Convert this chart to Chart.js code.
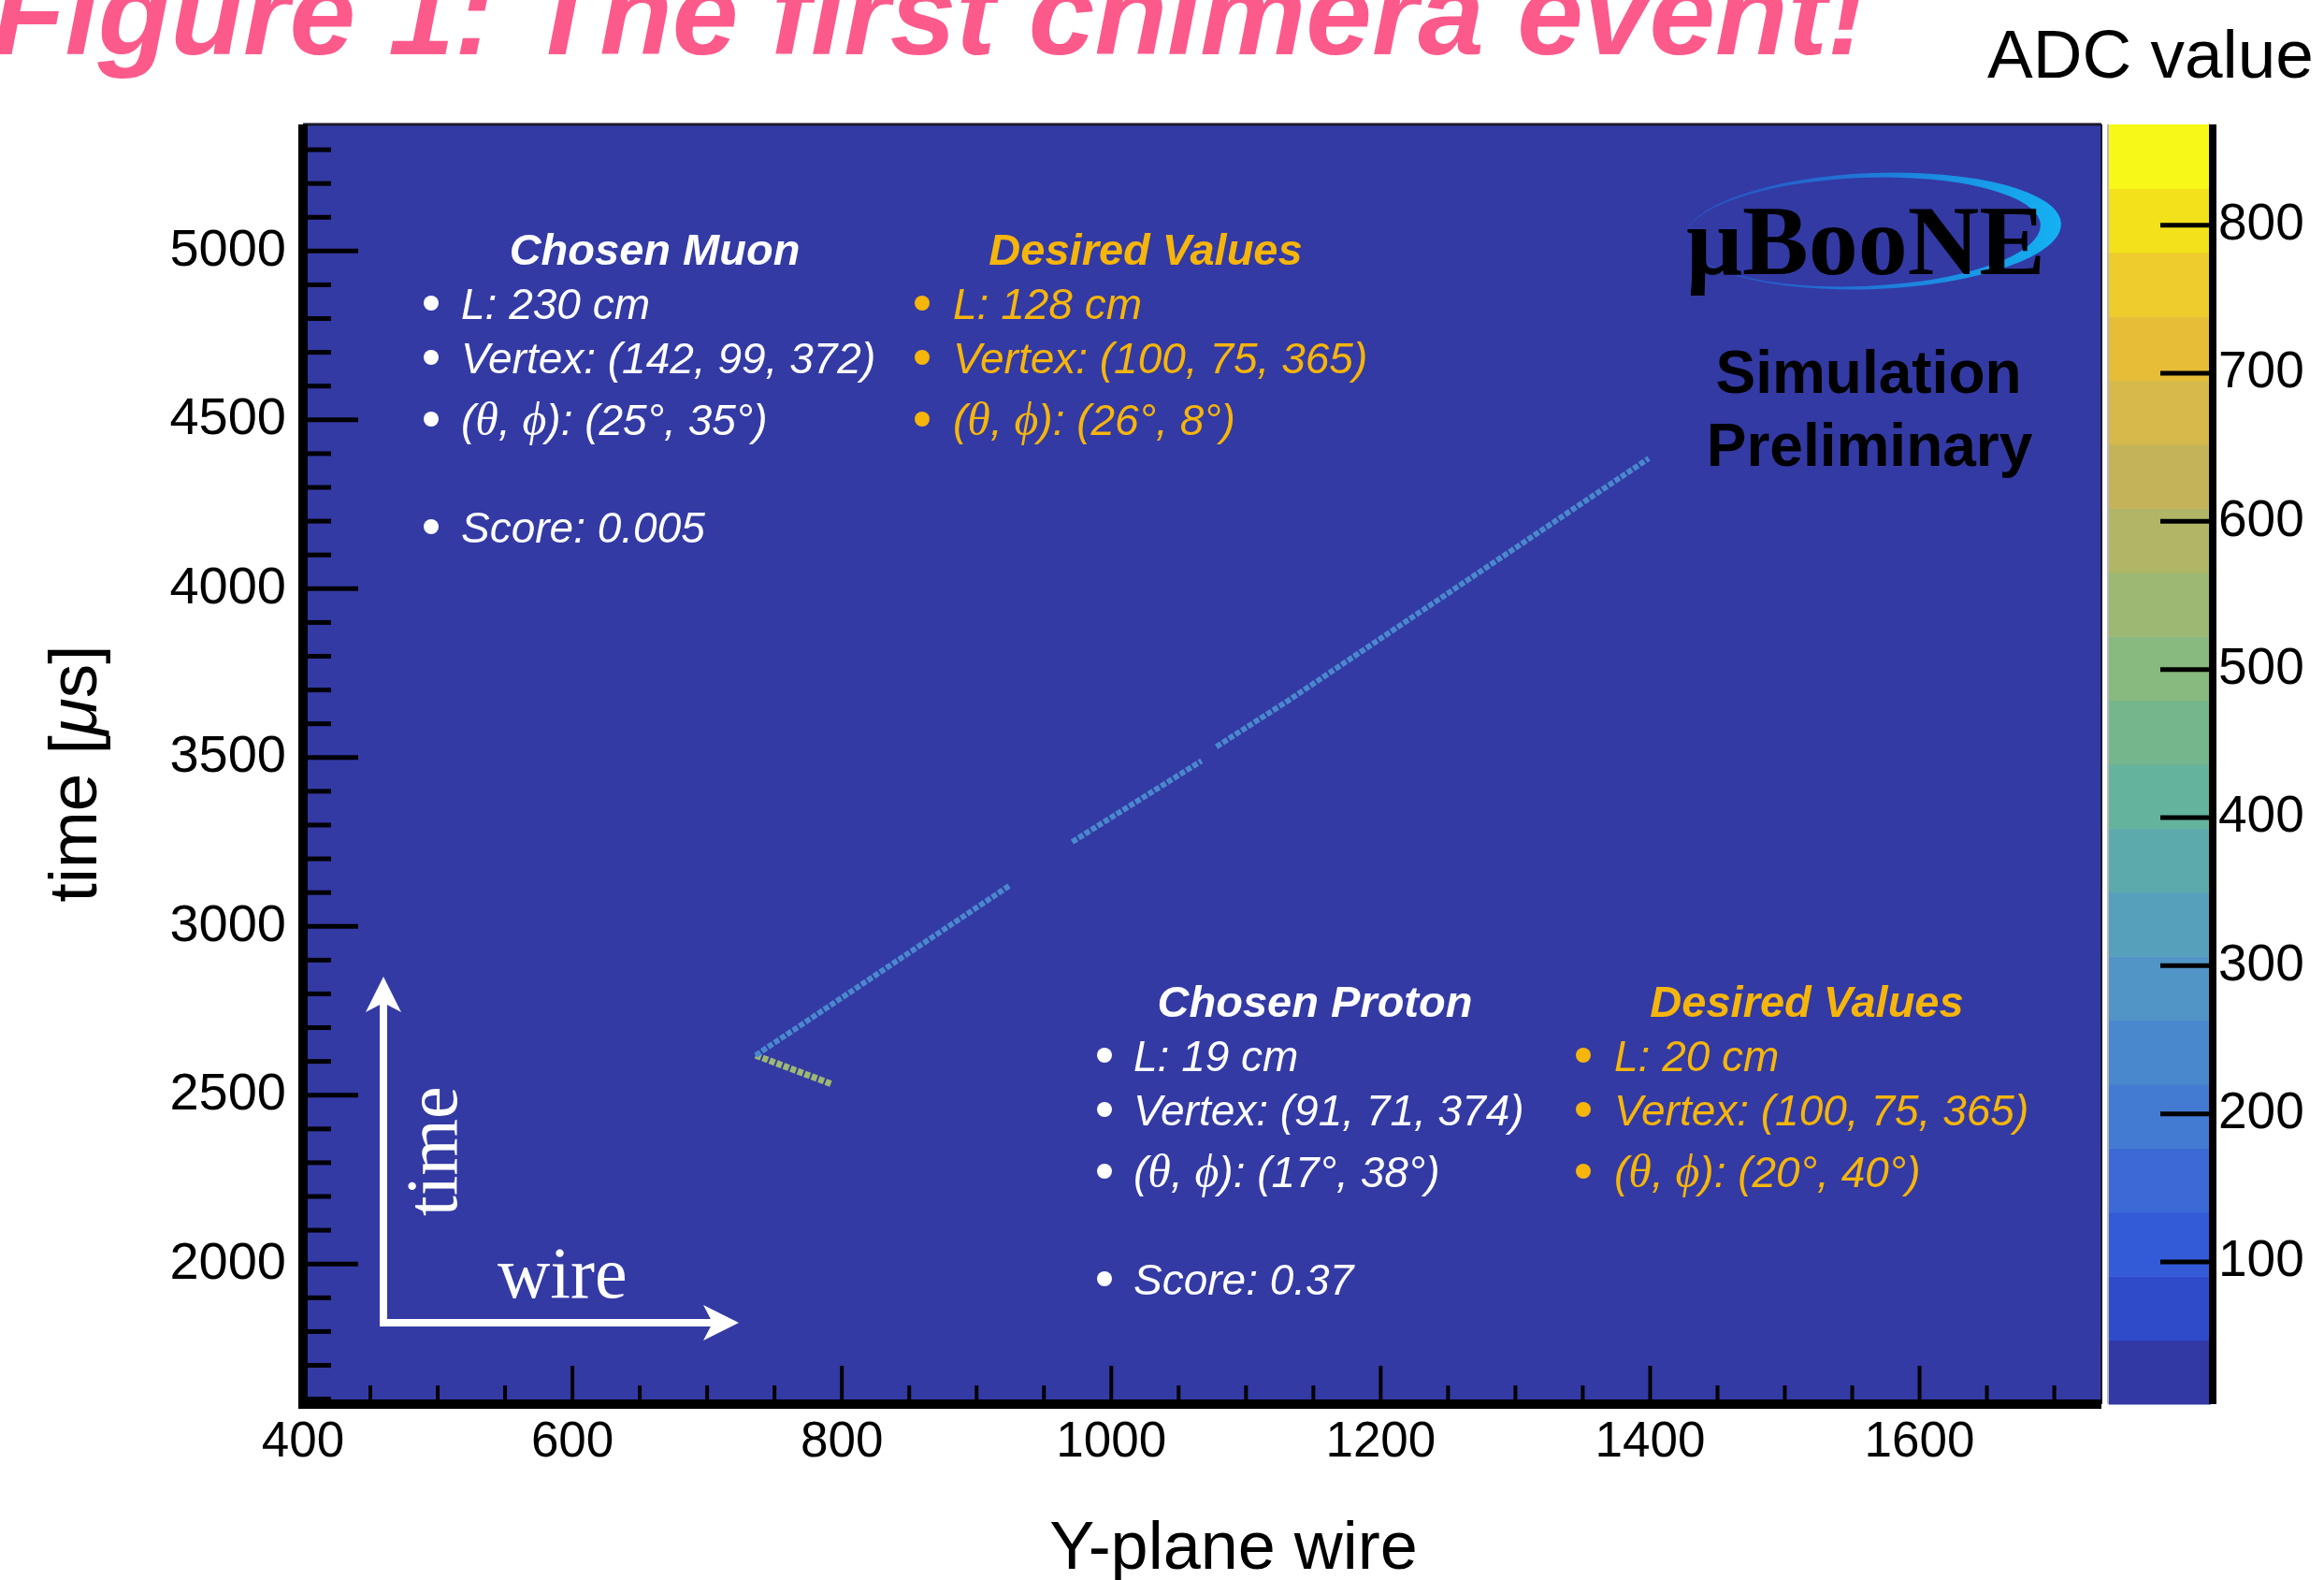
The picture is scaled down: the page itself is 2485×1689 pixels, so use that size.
<!DOCTYPE html>
<html>
<head>
<meta charset="utf-8">
<script src="https://cdn.jsdelivr.net/npm/chart.js@4.4.0/dist/chart.umd.min.js"></script>
<style>
  html, body { margin:0; padding:0; background:#fff; }
  #wrap { width:2485px; height:1689px; }
</style>
</head>
<body>
<div id="wrap"><canvas id="evd" width="2485" height="1689"></canvas></div>
<script>
const xTicks = [400, 600, 800, 1000, 1200, 1400, 1600];
const yTicks = [2000, 2500, 3000, 3500, 4000, 4500, 5000];
const zTicks = [100, 200, 300, 400, 500, 600, 700, 800];
const xRange = [400, 1735];
const yRange = [1585, 5375];
const zRange = [4, 868];

// muon track (wire, time), split where hits are missing
const muonWire = [[736, 925], [971, 1067], [1078, 1130, 1399]];
const muonTime = [[2618, 3122], [3250, 3490], [3532, 3665, 4386]];
const muonAdc  = 230;
// proton track
const protonWire = [736, 793];
const protonTime = [2618, 2532];
const protonAdc  = 560;

// colour bands of the ADC palette, bottom to top
const adcColors = ['#3339a4','#2f4bc9','#335bd8','#3b6ad7','#437bd3','#4a88ce','#5095c6','#56a0bb','#5caaac','#64b39c',
                   '#75b68d','#88b97e','#9db872','#b1b666','#c5b35a','#d6b84b','#e6bd37','#eecc2b','#f2e11b','#f7f815'];

// text boxes on the display
const muonInfo   = ['L: 230 cm', 'Vertex: (142, 99, 372)', '(θ, ϕ): (25°, 35°)', 'Score: 0.005'];
const muonWant   = ['L: 128 cm', 'Vertex: (100, 75, 365)', '(θ, ϕ): (26°, 8°)'];
const protonInfo = ['L: 19 cm', 'Vertex: (91, 71, 374)', '(θ, ϕ): (17°, 38°)', 'Score: 0.37'];
const protonWant = ['L: 20 cm', 'Vertex: (100, 75, 365)', '(θ, ϕ): (20°, 40°)'];

const W = 2485, H = 1689;
const AREA = { left:324, right:2247, top:133, bottom:1501 };
const BG = '#333aa4';
const GOLD = '#f6b50a';
const SANS = '"Liberation Sans", Arial, Helvetica, sans-serif';
const SERIF = '"Liberation Serif", "Times New Roman", serif';

function adcColor(v) {
  const n = adcColors.length;
  const i = Math.floor((v - zRange[0]) / (zRange[1] - zRange[0]) * n);
  return adcColors[Math.max(0, Math.min(n - 1, i))];
}

function seg(ws, ts) { return ws.map((w, i) => ({ x:w, y:ts[i] })); }

const datasets = [];
muonWire.forEach((ws, k) => datasets.push({
  label:'muon', data:seg(ws, muonTime[k]), borderColor:adcColor(muonAdc),
  borderWidth:6, borderDash:[6,2], pointRadius:0, tension:0
}));
datasets.push({
  label:'proton', data:seg(protonWire, protonTime), borderColor:adcColor(protonAdc),
  borderWidth:7, borderDash:[6,2], pointRadius:0, tension:0
});

// ─ helpers ─
function line(ctx, x1, y1, x2, y2) { ctx.beginPath(); ctx.moveTo(x1, y1); ctx.lineTo(x2, y2); ctx.stroke(); }

// draws a line, greek letters in serif italic
function richText(ctx, str, x, y, size) {
  let cx = x, buf = '', greek = null;
  const flush = () => {
    if (!buf) return;
    ctx.font = greek ? `italic ${size + 4}px ${SERIF}` : `italic ${size}px ${SANS}`;
    ctx.fillText(buf, cx, y);
    cx += ctx.measureText(buf).width;
    buf = '';
  };
  for (const ch of str) {
    const g = /[θϕ]/.test(ch);
    if (greek !== null && g !== greek) flush();
    greek = g; buf += ch;
  }
  flush();
}

function infoBlock(ctx, head, lines, color, headCx, baseY, bulletX, textX) {
  const offs = [58, 116, 182, 297];
  ctx.fillStyle = color;
  ctx.textAlign = 'center'; ctx.textBaseline = 'alphabetic';
  ctx.font = `italic bold 47px ${SANS}`;
  ctx.fillText(head, headCx, baseY);
  ctx.textAlign = 'left';
  lines.forEach((t, i) => {
    const by = baseY + offs[i];
    ctx.beginPath(); ctx.arc(bulletX, by - 17, 8, 0, Math.PI * 2); ctx.fill();
    richText(ctx, t, textX, by, 46);
  });
}

function arrow(ctx, x1, y1, x2, y2) {
  const a = Math.atan2(y2 - y1, x2 - x1);
  ctx.save();
  ctx.translate(x2, y2); ctx.rotate(a);
  const len = Math.hypot(x2 - x1, y2 - y1);
  ctx.fillStyle = '#fff';
  ctx.fillRect(-len, -4, len - 28, 8);
  ctx.beginPath();
  ctx.moveTo(0, 0); ctx.lineTo(-38, -19); ctx.lineTo(-28, 0); ctx.lineTo(-38, 19); ctx.closePath();
  ctx.fill();
  ctx.restore();
}

// keep the plot frame where the reference has it
function noPad(s) { s.paddingTop = 0; s.paddingBottom = 0; s.paddingLeft = 0; s.paddingRight = 0; }

// ─ plugin: frame, ticks, palette, labels ─
const evdPlugin = {
  id:'evd',
  beforeDraw(chart) {
    const ctx = chart.ctx, a = chart.chartArea, zs = chart.scales.z;
    ctx.save();
    ctx.fillStyle = BG;
    ctx.fillRect(a.left, a.top, a.right - a.left, a.bottom - a.top);
    // palette bands
    const n = adcColors.length, step = (zRange[1] - zRange[0]) / n;
    adcColors.forEach((c, i) => {
      const y0 = zs.getPixelForValue(zRange[0] + i * step);
      const y1 = zs.getPixelForValue(zRange[0] + (i + 1) * step);
      ctx.fillStyle = c;
      ctx.fillRect(2255, y1, 2364 - 2255, y0 - y1 + 0.5);
    });
    ctx.restore();
  },
  afterDatasetsDraw(chart) {
    const ctx = chart.ctx, a = chart.chartArea;
    const xs = chart.scales.x, ys = chart.scales.y, zs = chart.scales.z;
    ctx.save();
    ctx.strokeStyle = '#000'; ctx.lineCap = 'butt';

    // thin top / right edge
    ctx.lineWidth = 3; ctx.strokeStyle = '#1a1a2a';
    line(ctx, a.left, a.top, a.right, a.top);
    ctx.lineWidth = 2;
    line(ctx, a.right, a.top, a.right, a.bottom);

    // y ticks, into the frame
    ctx.strokeStyle = '#000'; ctx.lineWidth = 5;
    for (let v = Math.ceil(yRange[0] / 100) * 100; v < yRange[1]; v += 100) {
      const p = ys.getPixelForValue(v);
      line(ctx, a.left, p, a.left + (yTicks.includes(v) ? 59 : 30), p);
    }
    // x ticks
    ctx.lineWidth = 4;
    for (let v = xRange[0]; v < xRange[1]; v += 50) {
      const p = xs.getPixelForValue(v);
      line(ctx, p, a.bottom, p, a.bottom - (xTicks.includes(v) ? 41 : 20));
    }
    // heavy left / bottom frame
    ctx.lineWidth = 10;
    line(ctx, a.left, a.top, a.left, a.bottom + 5);
    line(ctx, a.left - 5, a.bottom, a.right, a.bottom);

    // palette frame and ticks
    ctx.lineWidth = 2; ctx.strokeStyle = '#b8b8c0';
    line(ctx, 2254, zs.top, 2254, zs.bottom);
    ctx.strokeStyle = '#000'; ctx.lineWidth = 8;
    line(ctx, 2366, zs.top, 2366, zs.bottom);
    ctx.lineWidth = 5;
    zTicks.forEach(v => { const p = zs.getPixelForValue(v); line(ctx, 2310, p, 2366, p); });

    // text boxes
    infoBlock(ctx, 'Chosen Muon', muonInfo, '#fff', 700, 283, 461, 493);
    infoBlock(ctx, 'Desired Values', muonWant, GOLD, 1225, 283, 986, 1019);
    infoBlock(ctx, 'Chosen Proton', protonInfo, '#fff', 1406, 1087, 1181, 1212);
    infoBlock(ctx, 'Desired Values', protonWant, GOLD, 1932, 1087, 1693, 1726);

    // experiment logo
    const g = ctx.createLinearGradient(1803, 0, 2205, 0);
    g.addColorStop(0, '#2a4cc0'); g.addColorStop(0.55, '#1d7fdc'); g.addColorStop(1, '#14b2f2');
    ctx.fillStyle = g;
    ctx.beginPath();
    ctx.ellipse(2003, 247, 201, 62, -0.04, 0, Math.PI * 2);
    ctx.moveTo(1992 + 190, 248);
    ctx.ellipse(1992, 248, 190, 58, -0.04, 0, Math.PI * 2);
    ctx.fill('evenodd');
    ctx.fillStyle = '#000';
    ctx.textAlign = 'left'; ctx.textBaseline = 'alphabetic';
    ctx.font = `bold 106px ${SERIF}`;
    ctx.fillText('μBooNE', 1803, 293);
    ctx.textAlign = 'center';
    ctx.font = `bold 64px ${SANS}`;
    ctx.fillText('Simulation', 1998, 420);
    ctx.fillText('Preliminary', 1999, 498);

    // time / wire arrows
    arrow(ctx, 410, 1414, 410, 1044);
    arrow(ctx, 406, 1414, 790, 1414);
    ctx.fillStyle = '#fff';
    ctx.font = `78px ${SERIF}`;
    ctx.textAlign = 'left';
    ctx.fillText('wire', 532, 1387);
    ctx.save();
    ctx.translate(488, 1300); ctx.rotate(-Math.PI / 2);
    ctx.fillText('time', 0, 0);
    ctx.restore();

    ctx.restore();
  },
  afterDraw(chart) {
    const ctx = chart.ctx;
    ctx.save();
    // title
    ctx.fillStyle = '#fd5a8c';
    ctx.textAlign = 'left'; ctx.textBaseline = 'alphabetic';
    ctx.font = `italic bold 127px ${SANS}`;
    ctx.fillText('Figure 1: The first chimera event!', -8, 58);
    // palette title
    ctx.fillStyle = '#000';
    ctx.font = `73px ${SANS}`;
    ctx.fillText('ADC value', 2125, 83);
    // axis titles
    ctx.font = `72px ${SANS}`;
    ctx.textAlign = 'center';
    ctx.fillText('Y-plane wire', 1319, 1677);
    ctx.save();
    ctx.translate(103, 827); ctx.rotate(-Math.PI / 2);
    ctx.textAlign = 'left';
    const parts = [['time [', ''], ['μ', 'italic '], ['s]', '']];
    let tw = 0;
    parts.forEach(([t, st]) => { ctx.font = `${st}73px ${SANS}`; tw += ctx.measureText(t).width; });
    let cx = -tw / 2;
    parts.forEach(([t, st]) => { ctx.font = `${st}73px ${SANS}`; ctx.fillText(t, cx, 0); cx += ctx.measureText(t).width; });
    ctx.restore();
    ctx.restore();
  }
};

const plain = v => String(v);

new Chart(document.getElementById('evd'), {
  type:'line',
  data:{ datasets },
  options:{
    responsive:false, animation:false, devicePixelRatio:1,
    layout:{ padding:{ top:AREA.top, left:0, right:0, bottom:0 } },
    plugins:{ legend:{ display:false }, tooltip:{ enabled:false }, title:{ display:false } },
    scales:{
      x:{
        type:'linear', position:'bottom', min:xRange[0], max:xRange[1],
        afterBuildTicks: s => { s.ticks = xTicks.map(v => ({ value:v })); },
        afterFit: s => { s.height = H - AREA.bottom; noPad(s); },
        grid:{ display:false, drawTicks:false }, border:{ display:false },
        ticks:{ color:'#000', font:{ family:SANS, size:53 }, padding:10, maxRotation:0, autoSkip:false, callback:plain }
      },
      y:{
        type:'linear', position:'left', min:yRange[0], max:yRange[1],
        afterBuildTicks: s => { s.ticks = yTicks.map(v => ({ value:v })); },
        afterFit: s => { s.width = AREA.left; noPad(s); },
        grid:{ display:false, drawTicks:false }, border:{ display:false },
        ticks:{ color:'#000', font:{ family:SANS, size:56 }, padding:18, autoSkip:false, callback:plain }
      },
      z:{
        type:'linear', position:'right', min:zRange[0], max:zRange[1],
        afterBuildTicks: s => { s.ticks = zTicks.map(v => ({ value:v })); },
        afterFit: s => { s.width = W - AREA.right; noPad(s); },
        grid:{ display:false, drawTicks:false }, border:{ display:false },
        ticks:{ color:'#000', font:{ family:SANS, size:55 }, padding:125, autoSkip:false, callback:plain }
      }
    }
  },
  plugins:[evdPlugin]
});
</script>
</body>
</html>
